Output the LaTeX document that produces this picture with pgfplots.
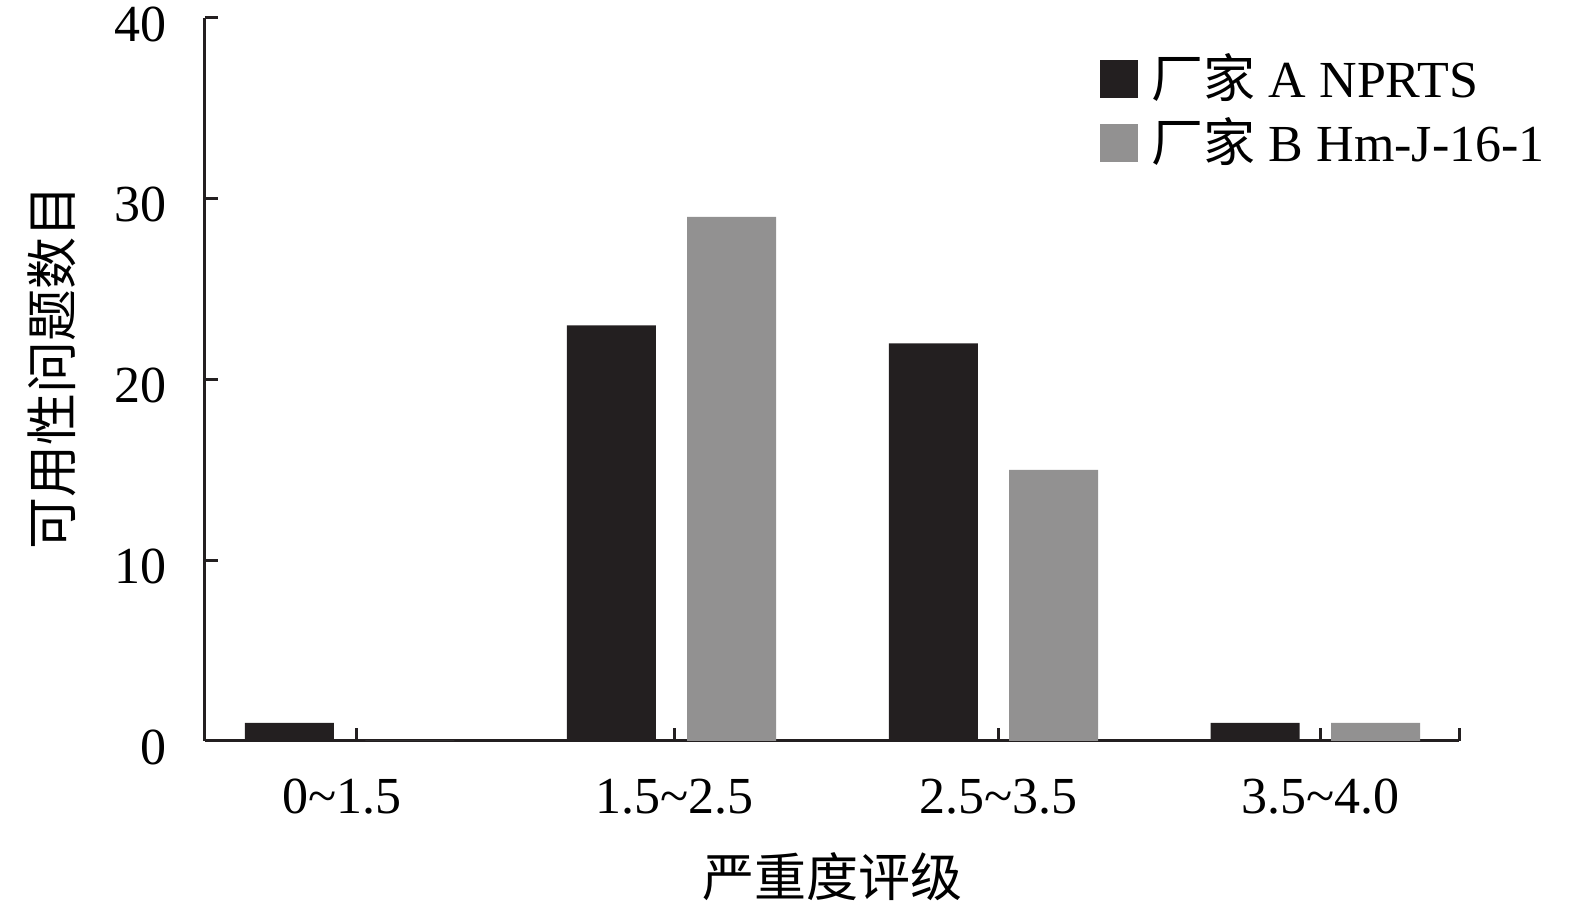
\documentclass[border=0pt]{standalone}
\usepackage{fontspec}
\setmainfont{Liberation Serif}
\newfontfamily\cjk{Noto Sans CJK SC}
\usepackage{pgfplots}
\pgfplotsset{compat=1.18}
\definecolor{barA}{HTML}{231F20}
\definecolor{barB}{HTML}{929191}
\definecolor{axisc}{HTML}{231F20}
\newcommand{\lbl}{\fontsize{13}{15.6}\selectfont}
\begin{document}
\begin{tikzpicture}
% page = 1575x906 px at 0.25pt per px
\path[use as bounding box] (-51.25pt,-41.25pt) rectangle (342.5pt,185.25pt);
\begin{axis}[
    at={(0,0)}, anchor=south west,
    width=313.5pt, height=180.75pt, scale only axis,
    xmin=-0.449, xmax=3.446,
    ymin=0, ymax=40,
    axis lines*=left,
    axis line style={axisc, line width=0.75pt},
    tick style={axisc, line width=0.75pt},
    tick align=inside,
    major tick length=3.25pt,
    xtick={0.023,1.01,2.015,3.017,3.446},
    xticklabels={\hspace*{-7.5pt}0\textasciitilde1.5, 1.5\textasciitilde2.5, 2.5\textasciitilde3.5, 3.5\textasciitilde4.0, {}},
    ytick={0,10,20,30,40},
    tick label style={font=\lbl},
    /pgf/number format/assume math mode=true,
    xticklabel style={yshift=-6pt},
    yticklabel style={xshift=-6pt, yshift=-1.5pt},
    xlabel={{\cjk 严重度评级}},
    ylabel={{\cjk 可用性问题数目}},
    label style={font=\lbl},
    xlabel style={at={(axis description cs:0.5,-0.188)}, anchor=center},
    ylabel style={at={(axis description cs:-0.122,0.517)}, anchor=center},
    legend style={at={(axis description cs:0.713,0.952)}, anchor=north west,
        draw=none, fill=none, inner sep=0pt, font=\lbl,
        nodes={inner sep=0pt, anchor=west}, column sep=3.5pt, row sep=3.5pt},
    legend cell align=left,
    legend image code/.code={\fill[#1] (0pt,-4.75pt) rectangle (9.5pt,4.75pt);},
]
\addplot[ybar, bar width=22.25pt, bar shift=-15.05pt, fill=barA, draw=none]
    coordinates {(0,1) (1,23) (2,22) (3,1)};
\addlegendentry{{\cjk 厂家} A NPRTS}
\addplot[ybar, bar width=22.25pt, bar shift=15.05pt, fill=barB, draw=none]
    coordinates {(0,0) (1,29) (2,15) (3,1)};
\addlegendentry{{\cjk 厂家} B Hm-J-16-1}
\end{axis}
\end{tikzpicture}
\end{document}
